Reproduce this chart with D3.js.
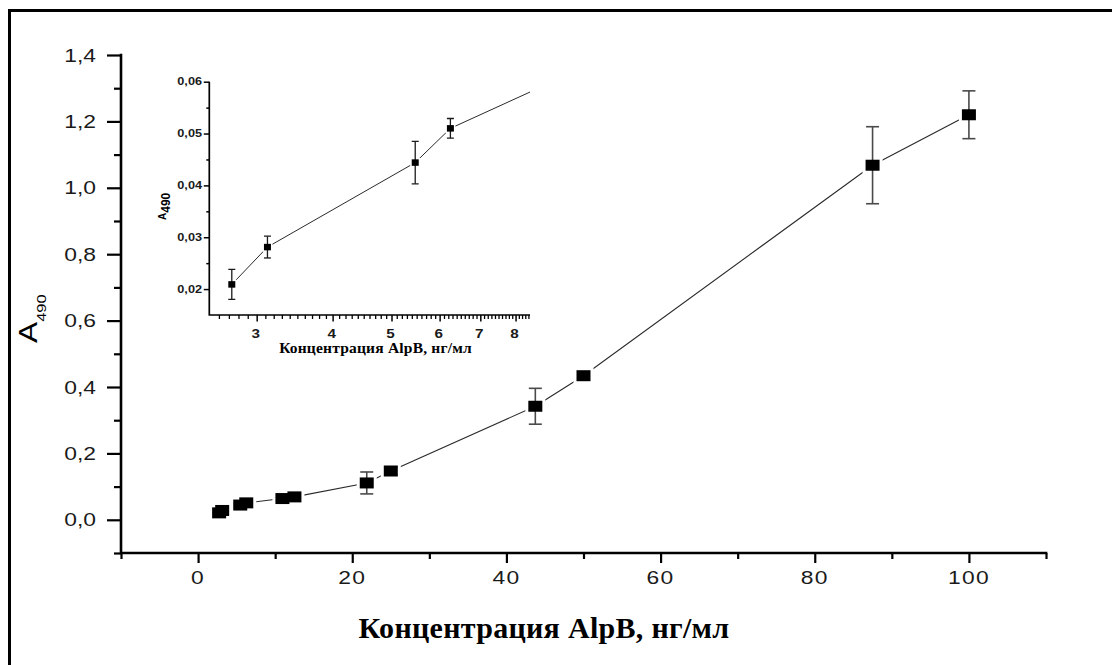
<!DOCTYPE html>
<html>
<head>
<meta charset="utf-8">
<script src="https://cdn.jsdelivr.net/npm/d3@7/dist/d3.min.js"></script>
<style>
  html, body { margin: 0; padding: 0; background: #fff; }
  svg { display: block; }
</style>
</head>
<body>
<svg id="chart" width="1112" height="665"></svg>
<script>
// AlpB concentration, ng/ml (two twofold dilution series)
const concentration = [2.73, 3.125, 5.47, 6.25, 10.94, 12.5, 21.88, 25, 43.75, 50, 87.5, 100];
// Mean absorbance at 490 nm
const absorbance = [0.0209, 0.0281, 0.0444, 0.0510, 0.0640, 0.0690, 0.111, 0.147, 0.342, 0.434, 1.068, 1.220];
// Standard deviation of absorbance
const absorbanceSD = [0.0029, 0.0021, 0.0041, 0.0019, 0.003, 0.003, 0.033, 0.012, 0.054, 0.005, 0.116, 0.072];

// Main axes ticks
const mainXTicks = [0, 20, 40, 60, 80, 100];
const mainXMinorTicks = [-10, 10, 30, 50, 70, 90, 110];
const mainYTicks = [0.0, 0.2, 0.4, 0.6, 0.8, 1.0, 1.2, 1.4];
const mainYMinorTicks = [-0.1, 0.1, 0.3, 0.5, 0.7, 0.9, 1.1, 1.3];

// Inset axes ticks
const insetXTicks = [3, 4, 5, 6, 7, 8];
const insetYTicks = [0.02, 0.03, 0.04, 0.05, 0.06];
const insetYMinorTicks = [0.025, 0.035, 0.045, 0.055];

const xTitle = "Концентрация AlpB, нг/мл";

const points = concentration.map((c, i) => ({ x: c, y: absorbance[i], sd: absorbanceSD[i] }));
const comma = fmt => v => fmt(v).replace(".", ",");

const svg = d3.select("#chart");
const STRETCH = 1.27;   // horizontally widened lettering used throughout

// page frame
svg.append("path")
  .attr("d", "M9.5,680 V10.5 H1130")
  .attr("fill", "none").attr("stroke", "#000").attr("stroke-width", 3);

// ---------------- main plot ----------------
const x = d3.scaleLinear().domain([-10, 110]).range([121, 1046]);
const y = d3.scaleLinear().domain([-0.1, 1.4]).range([553, 55]);

const main = svg.append("g");

function styleAxis(g, w) {
  g.select(".domain").remove();
  g.selectAll(".tick line").attr("stroke", "#000").attr("stroke-width", w);
  g.selectAll(".tick text").remove();
}

// x axis ticks
main.append("g").attr("transform", `translate(0,${y(-0.1)})`)
  .call(d3.axisBottom(x).tickValues(mainXTicks).tickSize(10).tickSizeOuter(0))
  .call(g => styleAxis(g, 2.2));
main.append("g").attr("transform", `translate(0,${y(-0.1)})`)
  .call(d3.axisBottom(x).tickValues(mainXMinorTicks).tickSize(6).tickSizeOuter(0))
  .call(g => styleAxis(g, 2.2));
// y axis ticks
main.append("g").attr("transform", `translate(${x(-10)},0)`)
  .call(d3.axisLeft(y).tickValues(mainYTicks).tickSize(14).tickSizeOuter(0))
  .call(g => styleAxis(g, 2.2));
main.append("g").attr("transform", `translate(${x(-10)},0)`)
  .call(d3.axisLeft(y).tickValues(mainYMinorTicks).tickSize(7).tickSizeOuter(0))
  .call(g => styleAxis(g, 2.2));

// axis lines
main.append("path")
  .attr("d", `M${x(-10)},${y(1.4)} V${y(-0.1)} H${x(110)}`)
  .attr("fill", "none").attr("stroke", "#000").attr("stroke-width", 2.6)
  .attr("stroke-linecap", "square");

// tick labels
main.selectAll(".xl").data(mainXTicks).join("text")
  .attr("transform", d => `translate(${x(d)},583.5) scale(${STRETCH},1)`)
  .attr("text-anchor", "middle")
  .attr("font-family", "Liberation Sans, Arial, sans-serif")
  .attr("font-size", 18).attr("letter-spacing", 1).attr("fill", "#1a1a1a")
  .text(d => String(d));
main.selectAll(".yl").data(mainYTicks).join("text")
  .attr("transform", d => `translate(96,${y(d) + 6.5}) scale(${STRETCH},1)`)
  .attr("text-anchor", "end")
  .attr("font-family", "Liberation Sans, Arial, sans-serif")
  .attr("font-size", 18).attr("fill", "#1a1a1a")
  .text(d => comma(d3.format(".1f"))(d));

// y title A490
const yt = main.append("text")
  .attr("transform", `translate(37,343) rotate(-90) scale(${STRETCH},1)`)
  .attr("font-family", "Liberation Sans, Arial, sans-serif")
  .attr("fill", "#000");
yt.append("tspan").attr("font-size", 25).text("A");
yt.append("tspan").attr("font-size", 13).attr("dy", 9).text("490");

// x title
main.append("text")
  .attr("x", 544).attr("y", 638)
  .attr("text-anchor", "middle")
  .attr("font-family", "Liberation Serif, Times New Roman, serif")
  .attr("font-weight", "bold").attr("font-size", 30).attr("letter-spacing", 0.3)
  .attr("fill", "#000")
  .text(xTitle);

// connecting line
const line = d3.line().x(d => x(d.x)).y(d => y(d.y));
main.append("path").datum(points)
  .attr("d", line).attr("fill", "none")
  .attr("stroke", "#2a2a2a").attr("stroke-width", 1.1);

const MW = 14, MH = 11;
// white halo around markers leaves a small gap in the line
main.selectAll(".halo").data(points).join("rect")
  .attr("x", d => x(d.x) - MW / 2 - 3).attr("y", d => y(d.y) - MH / 2 - 3)
  .attr("width", MW + 6).attr("height", MH + 6).attr("fill", "#fff");

// error bars
const eb = main.selectAll(".eb").data(points).join("g")
  .attr("stroke", "#4a4a4a").attr("stroke-width", 1.6);
eb.append("line")
  .attr("x1", d => x(d.x)).attr("x2", d => x(d.x))
  .attr("y1", d => y(d.y + d.sd)).attr("y2", d => y(d.y - d.sd));
eb.append("line")
  .attr("x1", d => x(d.x) - 6.5).attr("x2", d => x(d.x) + 6.5)
  .attr("y1", d => y(d.y + d.sd)).attr("y2", d => y(d.y + d.sd));
eb.append("line")
  .attr("x1", d => x(d.x) - 6.5).attr("x2", d => x(d.x) + 6.5)
  .attr("y1", d => y(d.y - d.sd)).attr("y2", d => y(d.y - d.sd));

main.selectAll(".mk").data(points).join("rect")
  .attr("x", d => x(d.x) - MW / 2).attr("y", d => y(d.y) - MH / 2)
  .attr("width", MW).attr("height", MH).attr("fill", "#000");

// ---------------- inset ----------------
const ix = d3.scaleLog().domain([2.507, 8.45]).range([209.3, 530]);
const iy = d3.scaleLinear().domain([0.015, 0.06]).range([315, 81.7]);
const inset = svg.append("g");

inset.append("clipPath").attr("id", "insetClip")
  .append("rect").attr("x", ix.range()[0]).attr("y", iy.range()[1] - 10)
  .attr("width", ix.range()[1] - ix.range()[0]).attr("height", iy.range()[0] - iy.range()[1] + 10);

const insetMinorX = d3.range(26, 85).map(v => v / 10).filter(v => !insetXTicks.includes(v));

inset.append("g").attr("transform", `translate(0,${iy(0.015)})`)
  .call(d3.axisBottom(ix).tickValues(insetXTicks).tickSize(6.5).tickSizeOuter(0))
  .call(g => styleAxis(g, 1.5));
inset.append("g").attr("transform", `translate(0,${iy(0.015)})`)
  .call(d3.axisBottom(ix).tickValues(insetMinorX).tickSize(4).tickSizeOuter(0))
  .call(g => styleAxis(g, 1.3));
inset.append("g").attr("transform", `translate(${ix(2.507)},0)`)
  .call(d3.axisLeft(iy).tickValues(insetYTicks).tickSize(5.5).tickSizeOuter(0))
  .call(g => styleAxis(g, 1.5));
inset.append("g").attr("transform", `translate(${ix(2.507)},0)`)
  .call(d3.axisLeft(iy).tickValues(insetYMinorTicks).tickSize(3).tickSizeOuter(0))
  .call(g => styleAxis(g, 1.5));

inset.append("path")
  .attr("d", `M${ix(2.507)},${iy(0.06)} V${iy(0.015)} H${ix(8.45)}`)
  .attr("fill", "none").attr("stroke", "#000").attr("stroke-width", 1.7);

inset.selectAll(".ixl").data(insetXTicks).join("text")
  .attr("transform", d => `translate(${ix(d) - 1},337.5) scale(${STRETCH},1)`)
  .attr("text-anchor", "middle")
  .attr("font-family", "Liberation Sans, Arial, sans-serif")
  .attr("font-weight", "bold").attr("font-size", 12).attr("fill", "#1a1a1a")
  .text(d => String(d));
inset.selectAll(".iyl").data(insetYTicks).join("text")
  .attr("transform", d => `translate(202,${iy(d) + 3.6}) scale(${STRETCH},1)`)
  .attr("text-anchor", "end")
  .attr("font-family", "Liberation Sans, Arial, sans-serif")
  .attr("font-weight", "bold").attr("font-size", 10).attr("fill", "#1a1a1a")
  .text(d => comma(d3.format(".2f"))(d));

const iyt = inset.append("text")
  .attr("transform", `translate(166,220) rotate(-90)`)
  .attr("font-family", "Liberation Sans, Arial, sans-serif")
  .attr("font-weight", "bold").attr("fill", "#000");
iyt.append("tspan").attr("font-size", 10).text("A");
iyt.append("tspan").attr("font-size", 12).attr("dy", 4).text("490");

inset.append("text")
  .attr("x", 375.5).attr("y", 353)
  .attr("text-anchor", "middle")
  .attr("font-family", "Liberation Serif, Times New Roman, serif")
  .attr("font-weight", "bold").attr("font-size", 15.5).attr("letter-spacing", 0.2)
  .attr("fill", "#000")
  .text(xTitle);

const plot = inset.append("g").attr("clip-path", "url(#insetClip)");
const iline = d3.line().x(d => ix(d.x)).y(d => iy(d.y));
plot.append("path").datum(points.slice(0, 6))
  .attr("d", iline).attr("fill", "none")
  .attr("stroke", "#2a2a2a").attr("stroke-width", 1);

const IW = 7, IH = 6.5;
plot.selectAll(".ihalo").data(points.slice(0, 4)).join("rect")
  .attr("x", d => ix(d.x) - IW / 2 - 1.5).attr("y", d => iy(d.y) - IH / 2 - 1.5)
  .attr("width", IW + 3).attr("height", IH + 3).attr("fill", "#fff");
const ieb = plot.selectAll(".ieb").data(points.slice(0, 4)).join("g")
  .attr("stroke", "#1a1a1a").attr("stroke-width", 1.3);
ieb.append("line")
  .attr("x1", d => ix(d.x)).attr("x2", d => ix(d.x))
  .attr("y1", d => iy(d.y + d.sd)).attr("y2", d => iy(d.y - d.sd));
ieb.append("line")
  .attr("x1", d => ix(d.x) - 3.5).attr("x2", d => ix(d.x) + 3.5)
  .attr("y1", d => iy(d.y + d.sd)).attr("y2", d => iy(d.y + d.sd));
ieb.append("line")
  .attr("x1", d => ix(d.x) - 3.5).attr("x2", d => ix(d.x) + 3.5)
  .attr("y1", d => iy(d.y - d.sd)).attr("y2", d => iy(d.y - d.sd));
plot.selectAll(".imk").data(points.slice(0, 4)).join("rect")
  .attr("x", d => ix(d.x) - IW / 2).attr("y", d => iy(d.y) - IH / 2)
  .attr("width", IW).attr("height", IH).attr("fill", "#000");
</script>
</body>
</html>
